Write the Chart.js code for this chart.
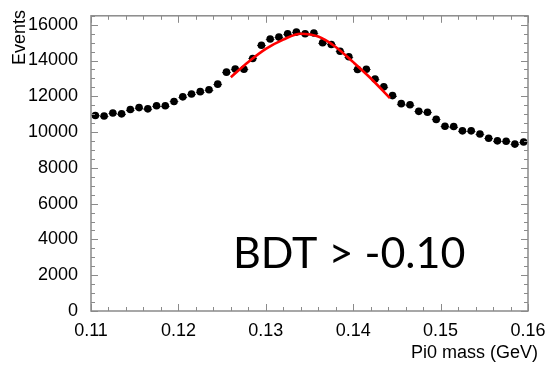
<!DOCTYPE html>
<html lang="en">
<head>
<meta charset="utf-8" />
<title>Pi0 mass, BDT > -0.10</title>
<script src="https://cdn.jsdelivr.net/npm/chart.js@4.4"></script>
<style>
  html,body{margin:0;padding:0;background:#fff;}
  #wrap{width:548px;height:366px;position:relative;}
</style>
</head>
<body>
<div id="wrap"><canvas id="mass"></canvas></div>

<script>
/***** ---------- Data ---------- *****/
// bin centres (GeV), 1 MeV bins
const binCenters=[
  0.1105,0.1115,0.1125,0.1135,0.1145,0.1155,0.1165,0.1175,0.1185,0.1195,
  0.1205,0.1215,0.1225,0.1235,0.1245,0.1255,0.1265,0.1275,0.1285,0.1295,
  0.1305,0.1315,0.1325,0.1335,0.1345,0.1355,0.1365,0.1375,0.1385,0.1395,
  0.1405,0.1415,0.1425,0.1435,0.1445,0.1455,0.1465,0.1475,0.1485,0.1495,
  0.1505,0.1515,0.1525,0.1535,0.1545,0.1555,0.1565,0.1575,0.1585,0.1595
];
const counts=[
  10930,10900,11070,11020,11260,11370,11300,11475,11475,11710,
  11970,12130,12260,12370,12680,13350,13530,13510,14115,14850,
  15200,15310,15500,15590,15500,15540,14990,14900,14520,14210,
  13500,13510,12970,12530,12040,11590,11530,11160,11110,10710,
  10330,10310,10070,10070,9890,9655,9510,9490,9330,9450
];
const BIN_W=0.001;

// fitted peak (sampled along the curve)
const fitX=[0.1260,0.1280,0.1300,0.1320,0.1340,0.1360,0.1380,0.1400,0.1420,0.1442];
const fitY=[13070,13920,14650,15170,15500,15340,14760,13910,13010,11900];

// axes
const X_MIN=0.11, X_MAX=0.16, Y_MIN=0, Y_MAX=16500;
const xTicks=[0.11,0.12,0.13,0.14,0.15,0.16];
const xTickLabels=['0.11','0.12','0.13','0.14','0.15','0.16'];
const yTicks=[0,2000,4000,6000,8000,10000,12000,14000,16000];
const yTickLabels=['0','2000','4000','6000','8000','10000','12000','14000','16000'];
const X_MINOR=0.002, Y_MINOR=500;

const X_TITLE='Pi0 mass (GeV)';
const Y_TITLE='Events';
const CUT_LABEL='BDT > -0.10';

/***** ---------- Frame, ticks, error bars, labels ---------- *****/
const frameColor='#8a8a8a';
const rootFrame={
  id:'rootFrame',
  beforeDatasetsDraw(chart){
    // horizontal bin-width bars behind the markers
    const {ctx,scales:{x,y}}=chart;
    ctx.save();
    ctx.strokeStyle='#444';ctx.lineWidth=1;
    binCenters.forEach((c,i)=>{
      const py=Math.round(y.getPixelForValue(counts[i]))+0.5;
      ctx.beginPath();
      ctx.moveTo(x.getPixelForValue(c-BIN_W/2),py);
      ctx.lineTo(x.getPixelForValue(c+BIN_W/2),py);
      ctx.stroke();
    });
    ctx.restore();
  },
  afterDraw(chart){
    const {ctx,chartArea:a,scales:{x,y}}=chart;
    ctx.save();
    ctx.strokeStyle=frameColor;ctx.lineWidth=1.5;
    ctx.strokeRect(a.left,a.top,a.right-a.left,a.bottom-a.top);

    // inward ticks on all four sides
    ctx.lineWidth=1;
    ctx.beginPath();
    for(let v=Y_MIN;v<=Y_MAX+1e-6;v+=Y_MINOR){
      const major=yTicks.includes(v), len=major?7:4;
      const py=Math.round(y.getPixelForValue(v))+0.5;
      ctx.moveTo(a.left,py);ctx.lineTo(a.left+len,py);
      ctx.moveTo(a.right,py);ctx.lineTo(a.right-len,py);
    }
    for(let k=0;k*X_MINOR<=X_MAX-X_MIN+1e-9;k++){
      const v=X_MIN+k*X_MINOR, major=k%5===0, len=major?7:4;
      const px=Math.round(x.getPixelForValue(v))+0.5;
      ctx.moveTo(px,a.bottom);ctx.lineTo(px,a.bottom-len);
      ctx.moveTo(px,a.top);ctx.lineTo(px,a.top+len);
    }
    ctx.stroke();

    // axis titles, ROOT style: at the far end of each axis
    ctx.fillStyle='#000';
    ctx.font='18px "Liberation Sans", Arial, sans-serif';
    ctx.textAlign='right';ctx.textBaseline='alphabetic';
    ctx.fillText(X_TITLE,538,358);
    ctx.translate(25,10);ctx.rotate(-Math.PI/2);
    ctx.fillText(Y_TITLE,0,0);
    ctx.setTransform(1,0,0,1,0,0);

    // selection label
    ctx.font='400 43px Lato, "Open Sans", sans-serif';
    ctx.textAlign='left';
    ctx.fillText(CUT_LABEL,233,268);
    ctx.restore();
  }
};

/***** ---------- Chart ---------- *****/
const tickFont={family:'"Liberation Sans", Arial, sans-serif',size:18};

new Chart(document.getElementById('mass'),{
  type:'scatter',
  data:{datasets:[
    {
      label:'fit',type:'line',order:0,
      data:fitX.map((v,i)=>({x:v,y:fitY[i]})),
      borderColor:'#ff0000',borderWidth:2.6,pointRadius:0,
      cubicInterpolationMode:'monotone',fill:false
    },
    {
      label:'data',order:1,
      data:binCenters.map((v,i)=>({x:v,y:counts[i]})),
      backgroundColor:'#000',borderColor:'#000',borderWidth:0,
      pointRadius:3.8,pointHoverRadius:3.8
    }
  ]},
  options:{
    responsive:true,maintainAspectRatio:false,animation:false,
    layout:{padding:{left:0,top:9,right:20,bottom:0}},
    plugins:{legend:{display:false},tooltip:{enabled:false}},
    scales:{
      x:{
        type:'linear',min:X_MIN,max:X_MAX,
        grid:{display:false},border:{display:false},
        afterBuildTicks:s=>{s.ticks=xTicks.map(v=>({value:v}));},
        afterFit:s=>{s.height=55;},
        ticks:{font:tickFont,color:'#000',padding:1,maxRotation:0,autoSkip:false,
          callback:(v,i)=>xTickLabels[i]}
      },
      y:{
        type:'linear',min:Y_MIN,max:Y_MAX,
        grid:{display:false},border:{display:false},
        afterBuildTicks:s=>{s.ticks=yTicks.map(v=>({value:v}));},
        afterFit:s=>{s.width=91;},
        ticks:{font:tickFont,color:'#000',padding:5,autoSkip:false,
          callback:(v,i)=>yTickLabels[i]}
      }
    }
  },
  plugins:[rootFrame]
});
</script>
</body>
</html>
